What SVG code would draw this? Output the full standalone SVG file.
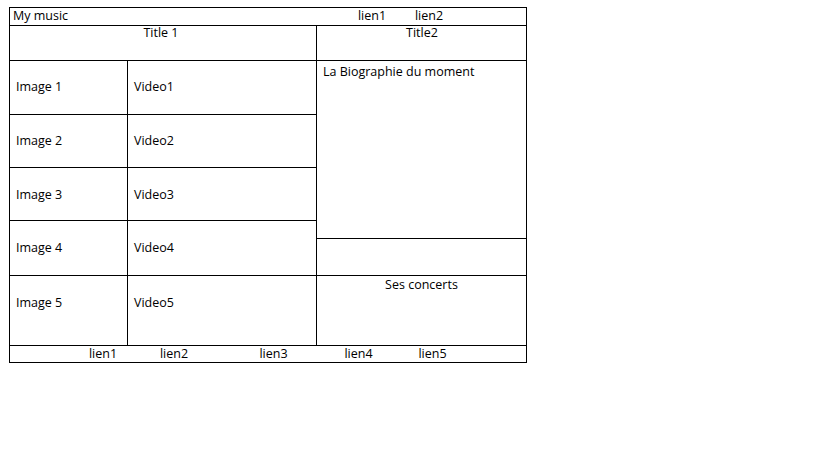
<svg xmlns="http://www.w3.org/2000/svg" width="816" height="460" viewBox="0 0 816 460">
<style>
rect.cell{fill:none;stroke:#000;stroke-width:1}
text{font-family:"Open Sans","Liberation Sans",sans-serif;font-size:12.5px;fill:#000}
.c{text-anchor:middle}
</style>
<rect x="0" y="0" width="816" height="460" fill="#fff"/>
<g id="header"><rect class="cell" x="9.5" y="7.5" width="517" height="18"/>
<text x="13" y="20">My music</text><text class="c" x="372" y="20">lien1</text><text class="c" x="429" y="20">lien2</text></g>
<g id="title1"><rect class="cell" x="9.5" y="25.5" width="307" height="35"/><text class="c" x="161" y="37">Title 1</text></g>
<g id="title2"><rect class="cell" x="316.5" y="25.5" width="210" height="35"/><text class="c" x="422" y="37">Title2</text></g>
<g id="image1"><rect class="cell" x="9.5" y="60.5" width="118" height="54"/><text x="16" y="91">Image 1</text></g>
<g id="video1"><rect class="cell" x="127.5" y="60.5" width="189" height="54"/><text x="134" y="91">Video1</text></g>
<g id="image2"><rect class="cell" x="9.5" y="114.5" width="118" height="53"/><text x="16" y="145">Image 2</text></g>
<g id="video2"><rect class="cell" x="127.5" y="114.5" width="189" height="53"/><text x="134" y="145">Video2</text></g>
<g id="image3"><rect class="cell" x="9.5" y="167.5" width="118" height="53"/><text x="16" y="198.5">Image 3</text></g>
<g id="video3"><rect class="cell" x="127.5" y="167.5" width="189" height="53"/><text x="134" y="198.5">Video3</text></g>
<g id="image4"><rect class="cell" x="9.5" y="220.5" width="118" height="55"/><text x="16" y="252">Image 4</text></g>
<g id="video4"><rect class="cell" x="127.5" y="220.5" width="189" height="55"/><text x="134" y="252">Video4</text></g>
<g id="image5"><rect class="cell" x="9.5" y="275.5" width="118" height="70"/><text x="16" y="306.5">Image 5</text></g>
<g id="video5"><rect class="cell" x="127.5" y="275.5" width="189" height="70"/><text x="134" y="306.5">Video5</text></g>
<g id="bio"><rect class="cell" x="316.5" y="60.5" width="210" height="178"/><text x="323" y="76">La Biographie du moment</text></g>
<g id="empty"><rect class="cell" x="316.5" y="238.5" width="210" height="37"/></g>
<g id="concerts"><rect class="cell" x="316.5" y="275.5" width="210" height="70"/><text class="c" x="421.5" y="289">Ses concerts</text></g>
<g id="footer"><rect class="cell" x="9.5" y="345.5" width="517" height="17"/>
<text class="c" x="103" y="358">lien1</text><text class="c" x="174" y="358">lien2</text><text class="c" x="273.5" y="358">lien3</text><text class="c" x="358.5" y="358">lien4</text><text class="c" x="432.5" y="358">lien5</text></g>
<g id="connectors"></g>
</svg>
